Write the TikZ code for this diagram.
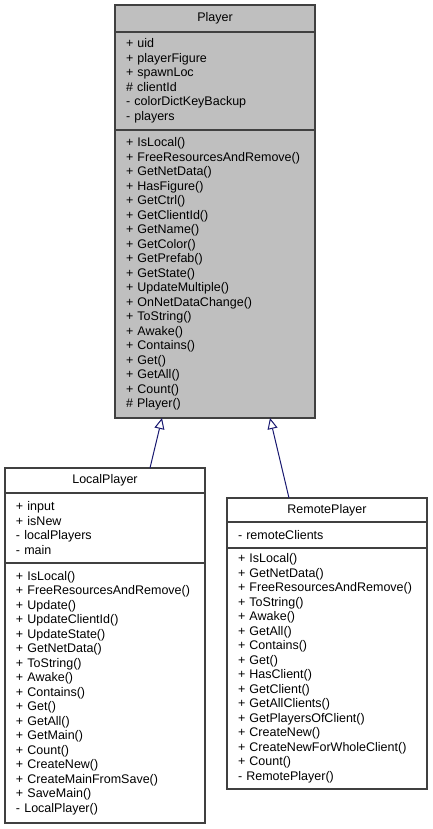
\documentclass[tikz,border=0pt]{standalone}
\usepackage{fontspec}
\setmainfont{Liberation Sans}
\usetikzlibrary{positioning,arrows.meta,calc}
\definecolor{edgeblue}{HTML}{191970}
\definecolor{basegray}{HTML}{BFBFBF}
\definecolor{boxline}{HTML}{404040}

\begin{document}
\begin{tikzpicture}[x=1pt, y=-1pt,
	classpart/.style={draw=boxline, line width=1.2pt, minimum width=200pt, text width=178pt,
		inner xsep=11pt, inner ysep=0pt, outer sep=0pt, align=left,
		font=\fontsize{12.5}{14.5}\selectfont},
	classhead/.style={classpart, align=center},
	inherit/.style={draw=edgeblue, line width=1pt, -{Triangle[open, length=11pt, width=10pt, fill=white]}}]
	\useasboundingbox (0,0) rectangle (432,829);
	
	%Basisklasse
	\node[classhead, fill=basegray, minimum height=27pt, anchor=north west] (player) at (115,5) {Player};
	\node[classpart, fill=basegray, minimum height=98pt, below=0pt of player] (playerattr) {+ uid\\+ playerFigure\\+ spawnLoc\\\# clientId\\- colorDictKeyBackup\\- players};
	\node[classpart, fill=basegray, minimum height=288pt, below=0pt of playerattr] (playerops) {+ IsLocal()\\+ FreeResourcesAndRemove()\\+ GetNetData()\\+ HasFigure()\\+ GetCtrl()\\+ GetClientId()\\+ GetName()\\+ GetColor()\\+ GetPrefab()\\+ GetState()\\+ UpdateMultiple()\\+ OnNetDataChange()\\+ ToString()\\+ Awake()\\+ Contains()\\+ Get()\\+ GetAll()\\+ Count()\\\# Player()};
	
	%LocalPlayer
	\node[classhead, fill=white, minimum height=25pt, anchor=north west] (local) at (5,468) {LocalPlayer};
	\node[classpart, fill=white, minimum height=70pt, below=0pt of local] (localattr) {+ input\\+ isNew\\- localPlayers\\- main};
	\node[classpart, fill=white, minimum height=260pt, below=0pt of localattr] (localops) {+ IsLocal()\\+ FreeResourcesAndRemove()\\+ Update()\\+ UpdateClientId()\\+ UpdateState()\\+ GetNetData()\\+ ToString()\\+ Awake()\\+ Contains()\\+ Get()\\+ GetAll()\\+ GetMain()\\+ Count()\\+ CreateNew()\\+ CreateMainFromSave()\\+ SaveMain()\\- LocalPlayer()};
	
	%RemotePlayer
	\node[classhead, fill=white, minimum height=24pt, anchor=north west] (remote) at (227,498) {RemotePlayer};
	\node[classpart, fill=white, minimum height=26pt, below=0pt of remote] (remoteattr) {- remoteClients};
	\node[classpart, fill=white, minimum height=241pt, below=0pt of remoteattr] (remoteops) {+ IsLocal()\\+ GetNetData()\\+ FreeResourcesAndRemove()\\+ ToString()\\+ Awake()\\+ GetAll()\\+ Contains()\\+ Get()\\+ HasClient()\\+ GetClient()\\+ GetAllClients()\\+ GetPlayersOfClient()\\+ CreateNew()\\+ CreateNewForWholeClient()\\+ Count()\\- RemotePlayer()};
	
	%Vererbung
	\draw[inherit] ($(local.north)+(45,0)$) -- ($(playerops.south)+(-53,0)$);
	\draw[inherit] ($(remote.north)+(-38,0)$) -- ($(playerops.south)+(55,0)$);
\end{tikzpicture}
\end{document}
